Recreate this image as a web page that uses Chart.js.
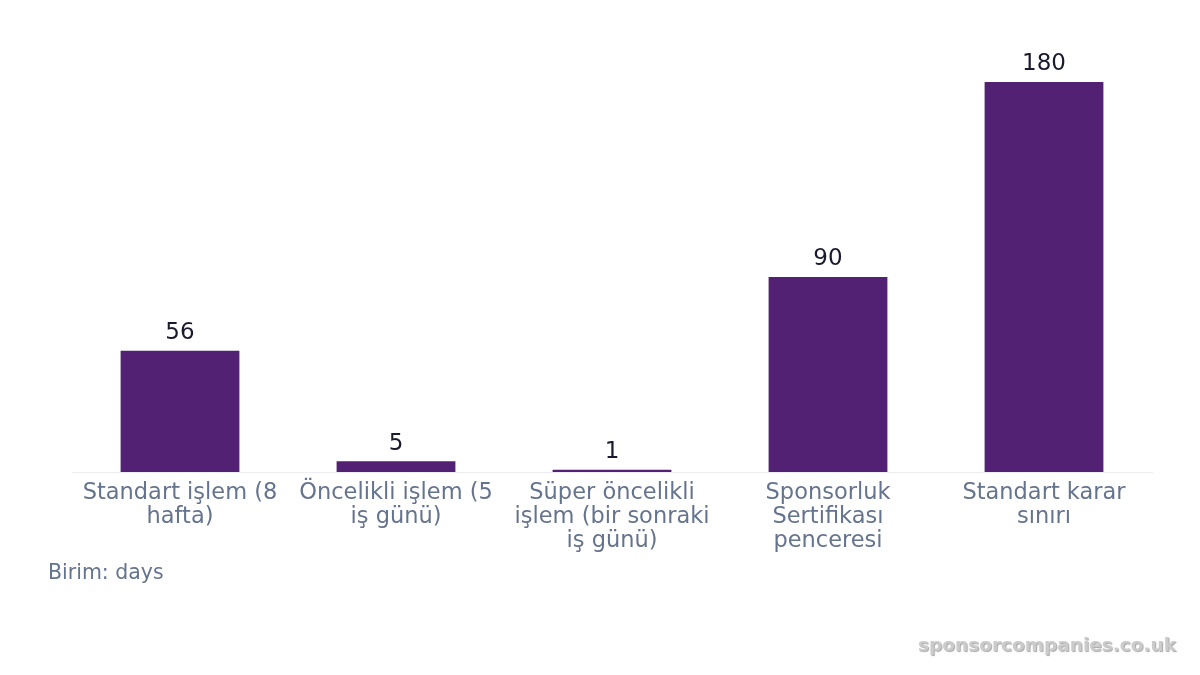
<!DOCTYPE html>
<html>
<head>
<meta charset="utf-8">
<script src="https://cdn.jsdelivr.net/npm/chart.js@4"></script>
<style>
  body { margin: 0; background: #fff; }
  #wrap { position: relative; width: 1200px; height: 675px; }
  #unit { position: absolute; left: 48px; top: 560px; font: 20.5px "DejaVu Sans", sans-serif; color: #65748e; }
  #mark { position: absolute; right: 24px; top: 634px; font: bold 18.5px "DejaVu Sans", sans-serif; color: #cbcbcb; text-shadow: 1px 1px 1px #a8a8a8; }
</style>
</head>
<body>
<div id="wrap">
  <canvas id="myChart" width="1200" height="675"></canvas>
  <div id="unit">Birim: days</div>
  <div id="mark">sponsorcompanies.co.uk</div>
</div>
<script>
var categories = [
  ['Standart işlem (8', 'hafta)'],
  ['Öncelikli işlem (5', 'iş günü)'],
  ['Süper öncelikli', 'işlem (bir sonraki', 'iş günü)'],
  ['Sponsorluk', 'Sertifikası', 'penceresi'],
  ['Standart karar', 'sınırı']
];
var days = [56, 5, 1, 90, 180];

// value labels above the bars
var valueLabels = {
  id: 'valueLabels',
  afterDatasetsDraw: function(chart) {
    var ctx = chart.ctx;
    var meta = chart.getDatasetMeta(0);
    ctx.save();
    ctx.font = '23px "DejaVu Sans", sans-serif';
    ctx.fillStyle = '#1a1a2e';
    ctx.textAlign = 'center';
    ctx.textBaseline = 'bottom';
    meta.data.forEach(function(bar, i) {
      ctx.fillText(String(days[i]), bar.x, bar.y - 6);
    });
    ctx.restore();
  }
};

var ctx = document.getElementById('myChart').getContext('2d');
var myChart = new Chart(ctx, {
  type: 'bar',
  data: {
    labels: categories,
    datasets: [{
      label: 'days',
      data: days,
      backgroundColor: '#522173',
      borderWidth: 0,
      categoryPercentage: 1,
      barPercentage: 0.55
    }]
  },
  options: {
    responsive: false,
    animation: false,
    layout: { padding: { left: 72, right: 48, top: 82, bottom: 0 } },
    plugins: { legend: { display: false }, tooltip: { enabled: false } },
    scales: {
      x: {
        grid: { display: false },
        border: { display: true, color: '#eceef4', width: 1 },
        ticks: {
          color: '#65748e',
          font: { family: '"DejaVu Sans", sans-serif', size: 22.5, lineHeight: 1.07 },
          maxRotation: 0,
          autoSkip: false,
          padding: 1
        },
        afterFit: function(scale) { scale.height = 203; }
      },
      y: {
        display: false,
        min: 0,
        max: 180
      }
    }
  },
  plugins: [valueLabels]
});
</script>
</body>
</html>
